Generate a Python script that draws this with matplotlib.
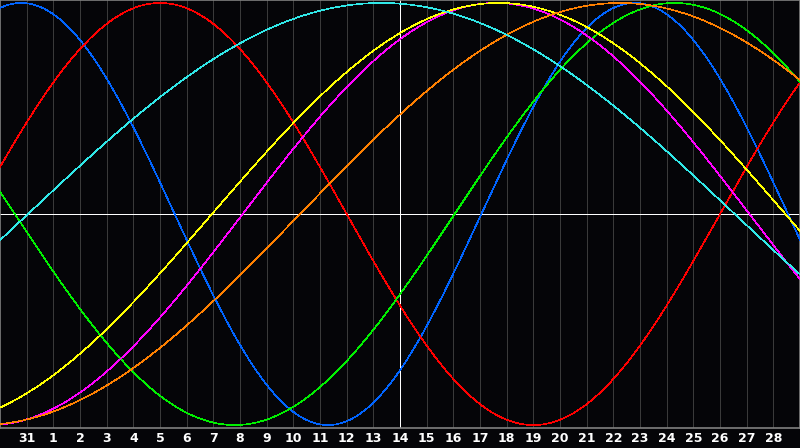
import matplotlib
matplotlib.use('Agg')
import matplotlib.pyplot as plt
import numpy as np

# day labels along the bottom (one per grid line)
day_labels = ['31'] + [str(d) for d in range(1, 29)]

# cycles: period in days, position (grid index) of the peak, colour
names = ['physical', 'emotional', 'intellectual', 'intuitive', 'aesthetic', 'awareness', 'spiritual']
periods = [23, 28, 33, 38, 43, 48, 53]
peaks = [0.8, 6.0, 25.3, 18.6, 18.7, 23.25, 14.3]
colors = ['#0064ff', '#ff0000', '#00f000', '#ff00ff', '#ffff00', '#ff8000', '#30e8e8']

bg = '#050508'
fig = plt.figure(figsize=(8, 4.48), dpi=100, facecolor=bg)
ax = fig.add_axes([0, 20/448, 1, 428/448])
ax.set_facecolor(bg)

xpos = np.arange(1, len(day_labels)+1)
for k in xpos:
    c = 'white' if day_labels[k-1] == '14' else '#3a3a3a'
    ax.axvline(k, color=c, lw=0.6, antialiased=False, zorder=2 if c == 'white' else 1)
ax.axhline(0, color='white', lw=0.6, antialiased=False, zorder=2)

t = np.linspace(0, 30, 1500)
for n, p, pk, c in zip(names, periods, peaks, colors):
    ax.plot(t, np.cos(2*np.pi*(t-pk)/p), color=c, lw=0.45, antialiased=False, zorder=3, label=n)

ax.set_xlim(0, 30)
ax.set_ylim(-1.014, 1.014)
ax.set_yticks([])
ax.set_xticks(xpos)
ax.set_xticklabels(day_labels, color='white', fontsize=9, fontweight='bold')
ax.tick_params(axis='x', length=0, pad=3)
for s in ax.spines.values():
    s.set_color('#808080')
    s.set_linewidth(1.2)

fig.savefig('out.png', dpi=100, facecolor=bg)
